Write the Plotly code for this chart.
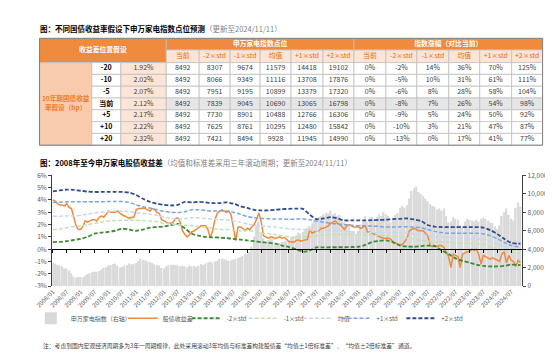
import plotly.graph_objects as go
import pandas as pd

W, H = 553, 357
def px(x): return x / W
def py(y): return 1 - y / H

FONT = "Noto Sans CJK SC"
ORANGE = "#F08A3C"

# ---------------- table data ----------------
bp_labels = ["-20", "-10", "-5", "当前", "+5", "+10", "+20"]
yields = ["1.92%", "2.02%", "2.07%", "2.12%", "2.17%", "2.22%", "2.32%"]
idx_now = [8492, 8492, 8492, 8492, 8492, 8492, 8492]
idx_m2 = [8307, 8066, 7951, 7839, 7730, 7625, 7421]
idx_m1 = [9674, 9349, 9195, 9045, 8901, 8761, 8494]
idx_mean = [11579, 11116, 10899, 10690, 10488, 10295, 9928]
idx_p1 = [14418, 13708, 13379, 13065, 12766, 12480, 11945]
idx_p2 = [19102, 17876, 17320, 16798, 16306, 15842, 14990]
chg_now = ["0%", "0%", "0%", "0%", "0%", "0%", "0%"]
chg_m2 = ["-2%", "-5%", "-6%", "-8%", "-9%", "-10%", "-13%"]
chg_m1 = ["14%", "10%", "8%", "7%", "5%", "3%", "0%"]
chg_mean = ["36%", "31%", "28%", "26%", "24%", "21%", "17%"]
chg_p1 = ["70%", "61%", "58%", "54%", "50%", "47%", "41%"]
chg_p2 = ["125%", "111%", "104%", "98%", "92%", "87%", "77%"]
sub_headers = ["当前", "-2×std", "-1×std", "均值", "+1×std", "+2×std"]
group_headers = ["申万家电指数点位", "指数涨幅（对比当前）"]
corner_header = "收益差位置假设"
row_group_label = "10年期国债收益<br>率假设（bp）"

# ---------------- chart data ----------------
index_vals = [
    2550, 2450, 2300, 2250, 2150, 1900, 1950, 1700, 1400, 1050, 950, 1000,
    1000, 950, 1150, 1300, 1400, 1500, 1600, 1550, 1650, 1800, 2000, 2050,
    2250, 2300, 2400, 2450, 2200, 2000, 2100, 2200, 2300, 2450, 2350, 2400,
    2500, 2750, 2950, 2850, 2800, 2700, 2650, 2500, 2350, 2300, 2250, 2000,
    1950, 2150, 2250, 2300, 2350, 2300, 2250, 2150, 2200, 2150, 2050, 2250,
    2150, 2200, 2100, 2200, 2400, 2300, 2450, 2550, 2650, 2550, 2700, 2750,
    2950, 3000, 2900, 2850, 2750, 2800, 2900, 2950, 3050, 3150, 3300, 3500,
    3500, 3700, 4300, 5400, 6500, 7000, 5800, 5200, 4600, 5000, 5300, 5200,
    4500, 4400, 4700, 4800, 4800, 4900, 5000, 5300, 5300, 5500, 5800, 5700,
    5900, 6100, 6300, 6500, 6800, 7200, 7300, 7500, 7600, 7800, 7900, 7900,
    8200, 7800, 7900, 7600, 7700, 7200, 6900, 6700, 6600, 6000, 5900, 5700,
    6000, 6700, 7200, 7600, 7000, 7400, 7500, 7300, 7500, 7800, 7600, 8000,
    7800, 7600, 6900, 7400, 7700, 7900, 8500, 8700, 8500, 8800, 9500, 10300,
    10600, 10800, 10200, 10000, 9800, 9500, 9200, 8900, 8700, 8600, 8300, 8400,
    8200, 8400, 7600, 6900, 7000, 7500, 7300, 7200, 6600, 6300, 7000, 7300,
    7200, 7100, 7000, 7200, 7000, 7300, 7400, 7300, 7100, 6900, 6800, 6500,
    6200, 6600, 7600, 8000, 8400, 7700, 7300, 7100, 8500, 9100, 8600,
]
spread = [
    4.0, 3.9, 3.7, 3.6, 3.6, 3.5, 3.7, 3.4, 3.3, 2.5, 1.9, 1.6,
    1.6, 1.9, 2.3, 2.2, 2.3, 2.4, 2.4, 2.3, 2.6, 2.7, 2.6, 2.9,
    3.1, 3.0, 3.0, 3.0, 3.1, 2.9, 2.8, 2.7, 2.6, 2.5, 2.6, 2.6,
    3.2, 3.3, 3.3, 3.35, 3.3, 3.2, 3.1, 3.3, 3.2, 3.0, 2.9, 2.4,
    2.3, 2.2, 2.1, 2.1, 2.2, 2.5, 2.55, 2.2, 1.5, 1.2, 1.0, 1.2,
    1.4, 1.5, 1.6, 1.75, 1.9, 1.9, 1.9, 1.6, 0.9, 1.5, 2.4, 2.9,
    3.1, 3.2, 3.1, 3.0, 3.1, 2.8, 1.8, 0.7, 1.8, 1.8, 1.7, 1.5,
    1.7, 1.6, 1.8, 2.0, 2.4, 2.95, 2.3, 1.1, 1.0, 0.9, 1.0, 1.0,
    0.85, 0.9, 1.0, 0.9, 0.95, 0.8, 0.6, 0.6, 0.55, 0.7, 0.75, 0.65,
    0.7, 0.7, 0.8, 1.6, 1.3, 1.4, 1.5, 1.5, 1.7, 1.7, 1.8, 1.9,
    2.1, 2.2, 2.3, 2.1, 2.0, 1.8, 1.6, 1.9, 2.0, 1.9, 1.8, 1.8,
    1.8, 1.7, 1.8, 1.9, 1.4, 1.4, 1.3, 1.2, 1.1, 1.05, 0.95, 0.9,
    0.9, 0.9, 0.8, 0.6, 0.5, 0.4, 0.35, 0.4, 0.6, 0.9, 1.5, 1.6,
    1.7, 1.6, 1.5, 1.5, 1.5, 1.3, 1.1, 0.3, 0.2, 0.3, 0.2, 0.3,
    0.3, 0.1, -0.2, -0.6, -1.5, -0.4, -0.5, -0.6, -1.5, -0.4, -0.3, -0.2,
    -0.2, 0.0, -0.1, 0.0, -0.4, -1.2, -0.5, -0.6, -0.7, -0.8, -0.7, -0.8,
    -0.9, -1.0, -0.4, -0.2, -1.1, -0.5, -0.9, -1.0, -1.4, -0.9, -1.1,
]
band_p2 = [
    4.7, 4.78, 4.84, 4.82, 4.75, 4.68, 4.65, 4.65, 4.65, 4.65, 4.65, 4.6,
    4.4, 4.1, 3.85, 3.7, 3.6, 3.55, 3.6, 3.85, 3.8, 3.85, 3.8, 3.75,
    3.75, 3.8, 3.7, 3.5, 3.35, 3.2, 3.15, 3.15, 3.2, 3.25, 3.28, 3.3,
    3.28, 2.8, 2.45, 2.5, 2.6, 2.5, 2.34, 2.34, 2.34, 2.34, 2.36, 2.38,
    2.4, 2.45, 2.47, 2.5, 2.42, 2.3, 1.97, 1.84, 1.8, 1.8, 1.8, 1.8,
    1.8, 1.8, 1.76, 1.55, 1.24, 0.84, 0.52, 0.45, 0.45,
]
band_p1 = [
    3.8, 3.82, 3.85, 3.85, 3.85, 3.85, 3.85, 3.86, 3.87, 3.88, 3.87, 3.8,
    3.6, 3.45, 3.35, 3.2, 3.08, 3.0, 2.98, 3.05, 3.2, 3.2, 3.15, 3.1,
    3.1, 3.1, 3.0, 2.85, 2.65, 2.55, 2.5, 2.48, 2.45, 2.45, 2.44, 2.45,
    2.45, 2.4, 2.3, 2.2, 2.1, 2.05, 2.0, 1.95, 1.9, 1.9, 1.88, 1.85,
    1.8, 1.8, 1.82, 1.82, 1.8, 1.75, 1.6, 1.45, 1.35, 1.3, 1.3, 1.3,
    1.3, 1.3, 1.25, 1.1, 0.85, 0.55, 0.3, 0.2, 0.18,
]
band_mean = [
    2.68, 2.68, 2.7, 2.7, 2.75, 2.85, 2.95, 3.0, 3.05, 3.1, 3.1, 3.05,
    2.95, 2.9, 2.85, 2.75, 2.6, 2.5, 2.45, 2.5, 2.55, 2.55, 2.5, 2.45,
    2.4, 2.4, 2.3, 2.2, 2.05, 1.95, 1.9, 1.85, 1.8, 1.72, 1.65, 1.62,
    1.6, 1.55, 1.5, 1.5, 1.5, 1.5, 1.48, 1.42, 1.38, 1.36, 1.36, 1.35,
    1.35, 1.35, 1.32, 1.3, 1.25, 1.2, 1.1, 1.0, 0.97, 0.95, 0.9, 0.88,
    0.86, 0.84, 0.8, 0.65, 0.45, 0.2, 0.05, -0.05, -0.08,
]
band_m1 = [
    1.6, 1.65, 1.75, 1.85, 1.9, 2.0, 2.1, 2.2, 2.3, 2.33, 2.35, 2.35,
    2.35, 2.33, 2.3, 2.25, 2.1, 2.05, 2.0, 1.95, 1.9, 1.85, 1.8, 1.7,
    1.6, 1.6, 1.55, 1.5, 1.5, 1.45, 1.3, 1.25, 1.2, 1.1, 1.0, 0.98,
    0.97, 1.02, 1.1, 1.15, 1.2, 1.2, 1.2, 1.18, 1.15, 1.15, 1.15, 1.12,
    1.1, 1.05, 1.0, 0.9, 0.84, 0.75, 0.65, 0.6, 0.58, 0.55, 0.5, 0.48,
    0.46, 0.45, 0.4, 0.2, 0.05, -0.1, -0.2, -0.3, -0.35,
]
band_m2 = [
    0.58, 0.6, 0.65, 0.75, 0.84, 1.0, 1.26, 1.35, 1.4, 1.5, 1.66, 1.6,
    1.5, 1.6, 1.75, 1.8, 1.85, 1.95, 2.05, 1.7, 1.26, 1.1, 1.0, 0.97,
    0.95, 0.9, 0.84, 0.78, 0.71, 0.65, 0.58, 0.52, 0.45, 0.3, 0.18, 0.0,
    -0.2, -0.1, 0.15, 0.15, 0.16, 0.16, 0.16, 0.18, 0.2, 0.35, 0.58, 0.68,
    0.71, 0.55, 0.3, 0.22, 0.2, 0.25, 0.3, 0.25, -0.1, -0.4, -0.74, -0.95,
    -1.1, -1.25, -1.36, -1.4, -1.4, -1.35, -1.25, -1.28, -1.3,
]
months = pd.date_range("2008-01-01", "2024-11-01", freq="MS")
q_dates = list(pd.date_range("2008-01-01", "2024-10-01", freq="QS")) + [pd.Timestamp("2024-11-01")]
left_ticks = [-3, -2, -1, 0, 1, 2, 3, 4, 5, 6]
right_ticks = [0, 2000, 4000, 6000, 8000, 10000, 12000]

fig = go.Figure()

# ---------------- table (drawn on a hidden cartesian grid) ----------------
LINE = "#BFBFBF"
PEACH = "#FCE4D6"
SALMON = "#F8CBAD"
col_edges = [14, 68, 98, 145, 179, 211, 242, 274, 307, 339, 372, 404, 437, 469, 502, 534]
row_edges = [25, 37, 50] + [50 + 85 / 7 * (i + 1) for i in range(7)]
data_cols = [idx_now, idx_m2, idx_m1, idx_mean, idx_p1, idx_p2,
             chg_now, chg_m2, chg_m1, chg_mean, chg_p1, chg_p2]

shapes = []
tx, ty, tt, tc, ts = [], [], [], [], []

def cell(c0, c1, r0, r1, fill, text, color, size):
    x0, x1 = col_edges[c0], col_edges[c1]
    y0, y1 = row_edges[r0], row_edges[r1]
    shapes.append(dict(type="rect", xref="x3", yref="y3", x0=x0, x1=x1, y0=y0, y1=y1,
                       fillcolor=fill, line=dict(color=LINE, width=0.8), layer="below"))
    tx.append((x0 + x1) / 2); ty.append((y0 + y1) / 2)
    tt.append(text); tc.append(color); ts.append(size)

cell(0, 3, 0, 2, ORANGE, "<b>%s</b>" % corner_header, "white", 6.8)
cell(3, 9, 0, 1, ORANGE, "<b>%s</b>" % group_headers[0], "white", 6.8)
cell(9, 15, 0, 1, ORANGE, "<b>%s</b>" % group_headers[1], "white", 6.8)
for j, name in enumerate(sub_headers + sub_headers):
    cell(3 + j, 4 + j, 1, 2, PEACH, name, "#E46C0A", 6.8)
cell(0, 1, 2, 9, SALMON, "<b>%s</b>" % row_group_label, "#ED7D31", 6.6)
for i in range(7):
    cell(1, 2, 2 + i, 3 + i, "#FFFFFF", "<b>%s</b>" % bp_labels[i], "#000000", 7)
    cell(2, 3, 2 + i, 3 + i, PEACH, yields[i], "#404040", 7)
    for j, col in enumerate(data_cols):
        fill = "#E7E6E6" if bp_labels[i] == "当前" else "#FFFFFF"
        cell(3 + j, 4 + j, 2 + i, 3 + i, fill, str(col[i]), "#404040", 7)
shapes.append(dict(type="rect", xref="x3", yref="y3", x0=col_edges[0], x1=col_edges[-1],
                   y0=row_edges[0], y1=row_edges[-1], fillcolor="rgba(0,0,0,0)",
                   line=dict(color="#7F7F7F", width=1), layer="above"))

fig.add_trace(go.Scatter(x=tx, y=ty, text=tt, mode="text", textposition="middle center",
                         textfont=dict(family=FONT, color=tc, size=ts),
                         xaxis="x3", yaxis="y3", showlegend=False, hoverinfo="skip"))

# ---------------- chart ----------------
fig.add_trace(go.Bar(x=months, y=index_vals, name="申万家电指数（右轴）",
                     marker=dict(color="#D9D9D9", line=dict(width=0)),
                     width=20 * 86400000, xaxis="x", yaxis="y", legend="legend"))
fig.add_trace(go.Scatter(x=months, y=spread, name="股债收益差", mode="lines",
                         line=dict(color=ORANGE, width=1.5), xaxis="x", yaxis="y2", legend="legend2"))
bands = [
    (band_m2, "-2×std", "#3D8B37", 1.8, "legend3"),
    (band_m1, "-1×std", "#C5E0B4", 1.5, "legend4"),
    (band_mean, "均值", "#C9D7EC", 1.5, "legend5"),
    (band_p1, "+1×std", "#7EA6DC", 1.5, "legend6"),
    (band_p2, "+2×std", "#2F4E8E", 1.8, "legend7"),
]
for vals, name, color, w, lg in bands:
    fig.add_trace(go.Scatter(x=q_dates, y=vals, name=name, mode="lines",
                             line=dict(color=color, width=w, dash="4px,2px", shape="spline", smoothing=0.8),
                             xaxis="x", yaxis="y2", legend=lg))
# invisible helper trace so that the zero-crossing axis x2 gets drawn
fig.add_trace(go.Scatter(x=months, y=spread, mode="lines", line=dict(color="rgba(0,0,0,0)"),
                         showlegend=False, hoverinfo="skip", xaxis="x2", yaxis="y2"))

x_range = ["2007-12-22", "2024-11-25"]
tick_font = dict(family=FONT, size=6.5, color="#595959")
y_bot, y_top = py(280), py(166)

legend_common = dict(orientation="h", yanchor="middle", xanchor="left", y=py(313),
                     bgcolor="rgba(0,0,0,0)", font=dict(family=FONT, size=6, color="#595959"),
                     itemwidth=30, borderwidth=0)
text_starts = [67, 162, 228, 287, 343, 383, 450]
legends = {}
for i, tsx in enumerate(text_starts):
    key = "legend" if i == 0 else "legend%d" % (i + 1)
    legends[key] = dict(legend_common, x=px(tsx - 62))

fig.update_layout(
    width=W, height=H, autosize=False,
    margin=dict(l=0, r=0, t=0, b=0),
    paper_bgcolor="white", plot_bgcolor="white",
    bargap=0.3, showlegend=True, shapes=shapes,
    xaxis=dict(domain=[px(27), px(513)], anchor="y", type="date", range=x_range,
               tick0="2008-01-01", dtick="M6", tickformat="%Y/%m", tickangle=-45,
               tickfont=dict(family=FONT, size=6, color="#595959"),
               showline=False, showgrid=False, ticks="", zeroline=False),
    xaxis2=dict(overlaying="x", anchor="free", position=y_bot + (y_top - y_bot) / 3,
                type="date", range=x_range, tick0="2008-01-01", dtick="M6",
                showline=True, linecolor="#000000", linewidth=1,
                ticks="outside", ticklen=3, tickcolor="#000000",
                showticklabels=False, showgrid=False, zeroline=False),
    yaxis=dict(domain=[y_bot, y_top], anchor="x", side="right", range=[0, 12000],
               tickvals=right_ticks, ticktext=["{:,}".format(v) for v in right_ticks],
               tickfont=tick_font, showline=True, linecolor="#404040", linewidth=1,
               ticks="outside", ticklen=3, tickcolor="#404040", showgrid=False, zeroline=False),
    yaxis2=dict(overlaying="y", anchor="x", side="left", range=[-3, 6],
                tickvals=left_ticks, ticktext=["%d%%" % v for v in left_ticks],
                tickfont=tick_font, showline=True, linecolor="#404040", linewidth=1,
                ticks="outside", ticklen=3, tickcolor="#404040", showgrid=False, zeroline=False),
    xaxis3=dict(domain=[px(13), px(535)], range=[13, 535], anchor="y3", visible=False, fixedrange=True),
    yaxis3=dict(domain=[py(136), py(24)], range=[136, 24], anchor="x3", visible=False, fixedrange=True),
    **legends,
)

fig.add_annotation(xref="paper", yref="paper", x=px(12), y=py(15), xanchor="left", yanchor="middle",
                   showarrow=False, font=dict(family=FONT, size=7.5, color="#000000"),
                   text="<b>图：不同国债收益率假设下申万家电指数点位预测</b><span style='color:#7F7F7F'>（更新至2024/11/11）</span>")
fig.add_annotation(xref="paper", yref="paper", x=px(12), y=py(153), xanchor="left", yanchor="middle",
                   showarrow=False, font=dict(family=FONT, size=7.5, color="#000000"),
                   text="<b>图：2008年至今申万家电股债收益差</b><span style='color:#7F7F7F'>（均值和标准差采用三年滚动周期；更新至2024/11/11）</span>")
fig.add_annotation(xref="paper", yref="paper", x=px(16), y=py(341), xanchor="left", yanchor="middle",
                   showarrow=False, font=dict(family=FONT, size=5.8, color="#404040"),
                   text="注：考虑到国内宏观经济周期多为3年一周期规律，此处采用滚动3年均值与标准差构建股债差“均值±1倍标准差”、“均值±2倍标准差”通道。")

fig.write_html("out.html")
